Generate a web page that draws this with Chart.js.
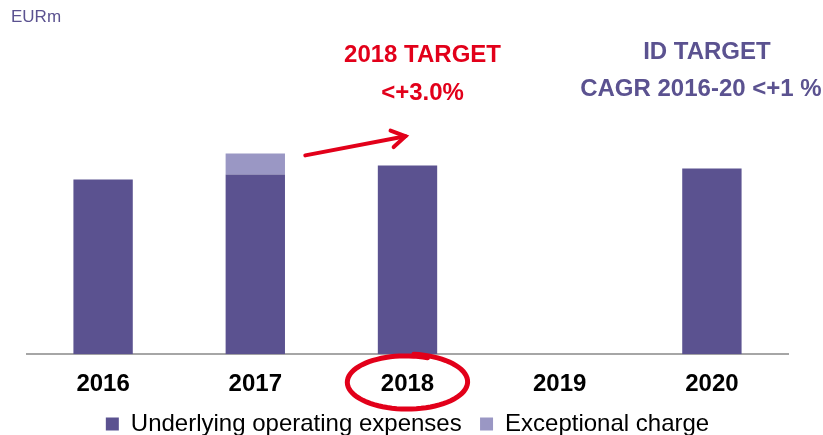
<!DOCTYPE html>
<html>
<head>
    <title>Operating expenses</title>
    <script src="https://cdn.jsdelivr.net/npm/chart.js"></script>
    <style>
        html, body { margin: 0; padding: 0; background: #fff; overflow: hidden; }
        .chart { width: 823px; height: 435px; overflow: hidden; }
    </style>
</head>
<body>
    <div class="chart">
        <!-- a bit taller than the window: the legend is cut at the bottom like in the slide -->
        <canvas id="opexChart" width="823" height="446"></canvas>
    </div>

    <script>
        // values (no axis shown, so arbitrary units)
        const years = ['2016', '2017', '2018', '2019', '2020'];
        const underlying = [174, 179, 188, null, 185];
        const exceptional = [null, 21, null, null, null];
        const seriesNames = ['Underlying operating expenses', 'Exceptional charge'];

        const darkPurple = '#5b5290';
        const lightPurple = '#9a97c4';
        const red = '#e2001a';

        // extra drawing: unit label, target texts, red arrow and circle
        const notes = {
            id: 'notes',
            afterDraw(chart) {
                const ctx = chart.ctx;
                const x = chart.scales.x;
                const y = chart.scales.y;
                ctx.save();

                ctx.fillStyle = darkPurple;
                ctx.font = '17px "Liberation Sans", Arial, sans-serif';
                ctx.textBaseline = 'middle';
                ctx.textAlign = 'left';
                ctx.fillText('EURm', 11, 17);

                ctx.textAlign = 'center';
                ctx.font = 'bold 24px "Liberation Sans", Arial, sans-serif';
                ctx.fillStyle = red;
                const x18 = x.getPixelForValue(2);
                ctx.fillText('2018 TARGET', x18 + 15, 55);
                ctx.fillText('<+3.0%', x18 + 15, 93);

                ctx.fillStyle = darkPurple;
                const x20 = x.getPixelForValue(4);
                ctx.fillText('ID TARGET', x20 - 5, 52);
                ctx.fillText('CAGR 2016-20 <+1 %', x20 - 11, 89);

                // arrow from 2017 towards 2018
                const x17 = x.getPixelForValue(1);
                const x0 = x17 + 50, y0 = y.getPixelForValue(198);
                const x1 = x18 - 2, y1 = y.getPixelForValue(217);
                ctx.strokeStyle = red;
                ctx.lineWidth = 4;
                ctx.lineCap = 'round';
                ctx.beginPath();
                ctx.moveTo(x0, y0);
                ctx.lineTo(x1, y1);
                ctx.stroke();
                const ang = Math.atan2(y1 - y0, x1 - x0);
                ctx.beginPath();
                ctx.moveTo(x1 - 16 * Math.cos(ang - 0.55), y1 - 16 * Math.sin(ang - 0.55));
                ctx.lineTo(x1, y1);
                ctx.lineTo(x1 - 16 * Math.cos(ang + 0.55), y1 - 16 * Math.sin(ang + 0.55));
                ctx.stroke();

                // hand drawn circle round the 2018 label
                const cx = x18 - 1, cy = 382;
                ctx.lineWidth = 5;
                ctx.beginPath();
                const steps = 80;
                for (let i = 0; i <= steps; i++) {
                    const t = -1.2 - (i / steps) * Math.PI * 2.08;
                    const rx = 58 + 4 * (i / steps);
                    const ry = 26 + 2 * (i / steps);
                    const px = cx + rx * Math.cos(t);
                    const py = cy + ry * Math.sin(t);
                    if (i === 0) ctx.moveTo(px, py); else ctx.lineTo(px, py);
                }
                ctx.stroke();

                ctx.restore();
            }
        };

        const ctx = document.getElementById('opexChart').getContext('2d');
        const myChart = new Chart(ctx, {
            type: 'bar',
            data: {
                labels: years,
                datasets: [{
                    label: seriesNames[0],
                    data: underlying,
                    backgroundColor: darkPurple,
                    borderWidth: 0,
                    barPercentage: 0.39,
                    categoryPercentage: 1
                }, {
                    label: seriesNames[1],
                    data: exceptional,
                    backgroundColor: lightPurple,
                    borderWidth: 0,
                    barPercentage: 0.39,
                    categoryPercentage: 1
                }]
            },
            options: {
                responsive: false,
                animation: false,
                layout: {
                    padding: { top: 53, left: 27, right: 35, bottom: 0 }
                },
                scales: {
                    x: {
                        stacked: true,
                        grid: { display: false },
                        border: { display: true, color: '#a6a6a6', width: 2 },
                        ticks: {
                            color: '#000',
                            padding: 8,
                            font: { family: '"Liberation Sans", Arial, sans-serif', size: 24, weight: 'bold' }
                        }
                    },
                    y: {
                        stacked: true,
                        display: false,
                        min: 0,
                        max: 300
                    }
                },
                plugins: {
                    tooltip: { enabled: false },
                    legend: {
                        position: 'bottom',
                        labels: {
                            color: '#000',
                            boxWidth: 13,
                            boxHeight: 13,
                            padding: 5,
                            font: { family: '"Liberation Sans", Arial, sans-serif', size: 24 },
                            // a little more room between the two items than the vertical padding gives
                            generateLabels(chart) {
                                const items = Chart.defaults.plugins.legend.labels.generateLabels(chart);
                                items[0].text += '  ';
                                return items;
                            }
                        }
                    }
                }
            },
            plugins: [notes]
        });
    </script>
</body>
</html>
